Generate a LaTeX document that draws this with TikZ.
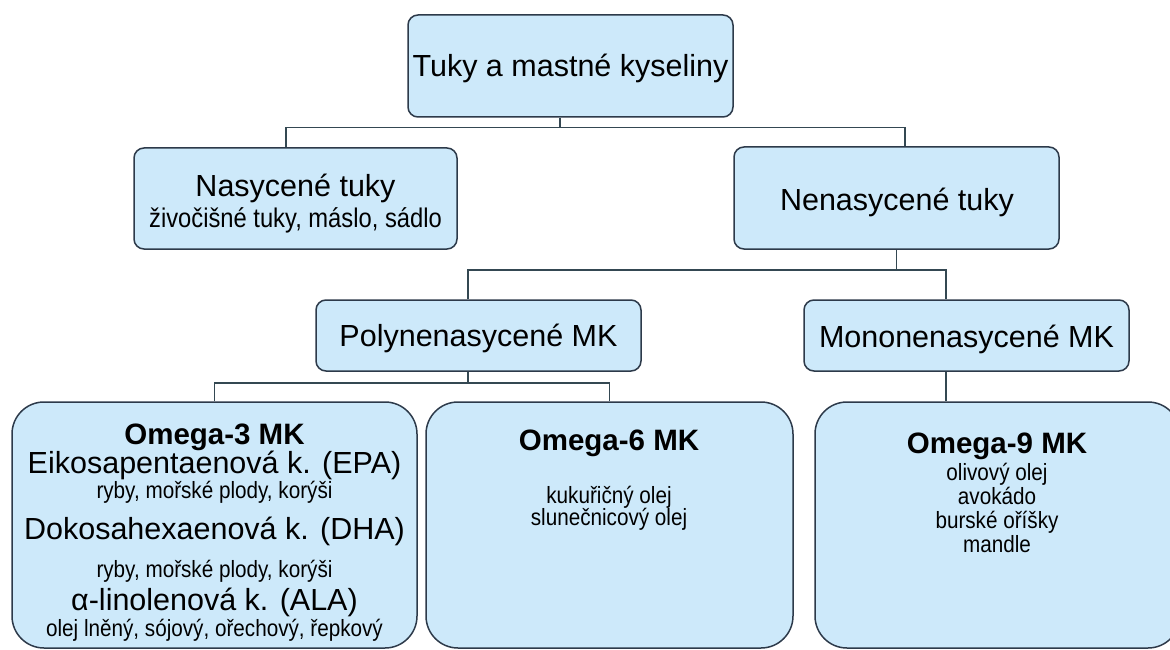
\documentclass[tikz,border=0pt]{standalone}
\usepackage{fontspec}
\setmainfont{Liberation Sans}
\newfontfamily\narrowfont[FakeStretch=0.88]{Liberation Sans}
\definecolor{boxfill}{RGB}{205,233,250}
\definecolor{boxline}{RGB}{45,58,74}
\definecolor{connline}{RGB}{52,72,82}
\tikzset{
  box/.style={draw=boxline, fill=boxfill, line width=1.5pt, rounded corners=10pt, inner sep=0pt},
  bigbox/.style={box, rounded corners=32pt},
  conn/.style={draw=connline, line width=1.5pt},
  bigtxt/.style={font=\fontsize{30.5}{35}\selectfont, inner sep=0pt},
  bigline/.style={bigtxt, anchor=base},
  headline/.style={font=\fontsize{29.5}{34}\bfseries\selectfont, anchor=base, inner sep=0pt},
  smallline/.style={font=\narrowfont\fontsize{23.5}{27}\selectfont, anchor=base, inner sep=0pt},
  midline/.style={font=\narrowfont\fontsize{27}{31}\selectfont, anchor=base, inner sep=0pt}
}
\begin{document}
\begin{tikzpicture}[x=1pt,y=-1pt]
\useasboundingbox (0,0) rectangle (1170,650);
\clip (0,0) rectangle (1170,650);
\fill[white] (0,0) rectangle (1170,650);

% boxes
\node[box, minimum width=325pt, minimum height=102pt] (top) at (570.5,66) {};
\node[bigtxt] (topT) at (570.5,68) {Tuky a mastné kyseliny};

\node[box, minimum width=323pt, minimum height=101pt] (nas) at (295.5,198.5) {};
\node[bigline] (nasT) at (295.5,196) {Nasycené tuky};
\node[midline] (nasS) at (295.5,227) {živočišné tuky, máslo, sádlo};

\node[box, minimum width=325pt, minimum height=102pt] (nen) at (896.5,198) {};
\node[bigline] (nenT) at (897,210) {Nenasycené tuky};

\node[box, minimum width=325pt, minimum height=71pt] (poly) at (478.5,335.5) {};
\node[bigline] (polyT) at (478.5,346) {Polynenasycené MK};

\node[box, minimum width=325pt, minimum height=71pt] (mono) at (966.5,335.5) {};
\node[bigline] (monoT) at (966.5,347) {Mononenasycené MK};

\node[bigbox, minimum width=405pt, minimum height=246pt] (o3) at (214.5,525) {};
\node[bigbox, minimum width=367pt, minimum height=246pt] (o6) at (609.5,525) {};
\node[bigbox, minimum width=365pt, minimum height=246pt] (o9) at (997.5,525) {};

% Omega-3 texts
\node[headline] (o3a) at (214.5,444) {Omega-3 MK};
\node[bigline] (o3b) at (214.5,473) {Eikosapentaenová k. (EPA)};
\node[smallline] (o3c) at (214.5,498) {ryby, mořské plody, korýši};
\node[bigline] (o3d) at (214.5,539) {Dokosahexaenová k. (DHA)};
\node[smallline] (o3e) at (214.5,577) {ryby, mořské plody, korýši};
\node[bigline] (o3f) at (214.5,610) {α-linolenová k. (ALA)};
\node[smallline] (o3g) at (214.5,636) {olej lněný, sójový, ořechový, řepkový};

% Omega-6 texts
\node[headline] (o6a) at (609,450) {Omega-6 MK};
\node[smallline] (o6b) at (609,503) {kukuřičný olej};
\node[smallline] (o6c) at (609,525) {slunečnicový olej};

% Omega-9 texts
\node[headline] (o9a) at (997,453) {Omega-9 MK};
\node[smallline] (o9b) at (997,480) {olivový olej};
\node[smallline] (o9c) at (997,504) {avokádo};
\node[smallline] (o9d) at (997,528) {burské oříšky};
\node[smallline] (o9e) at (997,552) {mandle};

% connectors
\draw[conn] ([xshift=-10.5pt]top.south) -- ++(0,-10pt) coordinate (b1);
\draw[conn] ([xshift=-9.5pt]nas.north) |- (b1) -| ([xshift=8.5pt]nen.north);

\draw[conn] (nen.south) -- ++(0,-20pt) coordinate (b2);
\draw[conn] ([xshift=-10.5pt]poly.north) |- (b2) -| ([xshift=-20.5pt]mono.north);

\draw[conn] ([xshift=-10.5pt]poly.south) -- ++(0,-11pt) coordinate (b3);
\draw[conn] (o3.north) |- (b3) -| (o6.north);

\draw[conn] ([xshift=-20.5pt]mono.south) -- ([xshift=-20.5pt]mono.south |- o9.north);
\end{tikzpicture}
\end{document}
